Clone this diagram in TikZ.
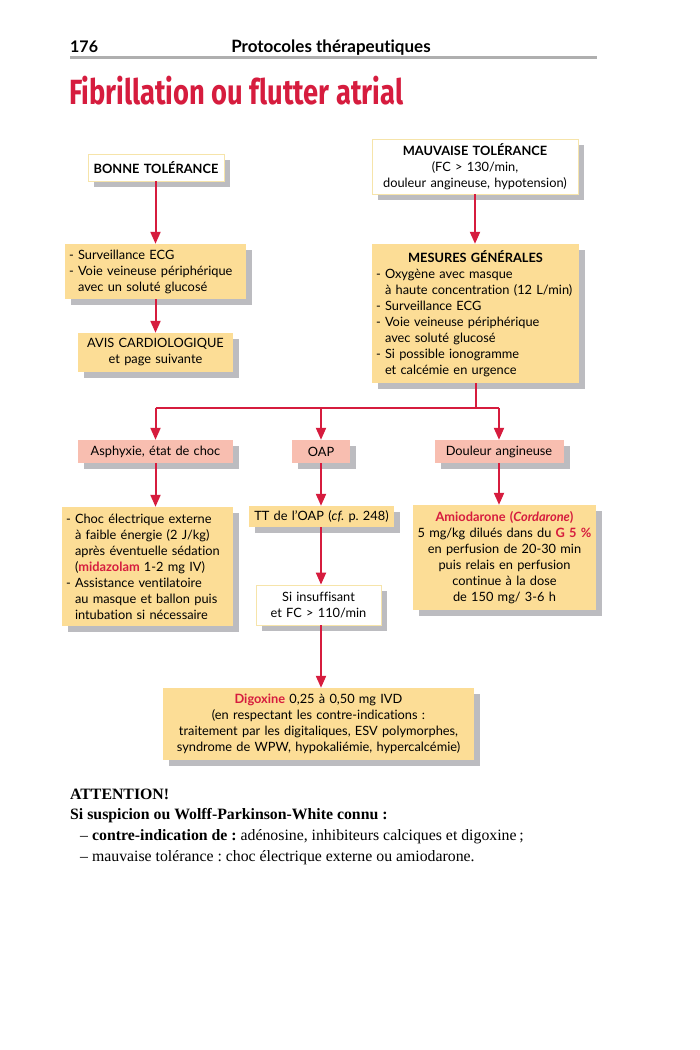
\documentclass[tikz,border=0pt]{standalone}
\usepackage{fontspec}
\setmainfont{Lato}[Ligatures=NoCommon]
\newfontfamily\serifx{Liberation Serif}
\newfontfamily\titlefont{Fira Sans}[Ligatures=NoCommon]
\usetikzlibrary{arrows.meta,shadows}
\frenchspacing
\definecolor{boxyel}{RGB}{252,221,150}
\definecolor{boxpink}{RGB}{248,190,176}
\definecolor{shgray}{RGB}{188,188,192}
\definecolor{redc}{RGB}{214,28,62}
\definecolor{bordery}{RGB}{246,228,170}
\definecolor{rulegray}{RGB}{175,175,175}
\tikzset{
  base/.style={font=\fontsize{12.8}{16}\selectfont, inner xsep=5pt, inner ysep=0pt,
    drop shadow={shadow xshift=6pt,shadow yshift=-6pt,fill=shgray,opacity=1}},
  ybox/.style={base, fill=boxyel},
  pbox/.style={base, fill=boxpink},
  wbox/.style={base, fill=white, draw=bordery, line width=0.8pt},
  arr/.style={draw=redc, line width=2pt, -{Triangle[length=12pt,width=10pt]}},
  lin/.style={draw=redc, line width=2pt},
}
\newcommand{\rb}[1]{\textcolor{redc}{\textbf{#1}}}
\begin{document}
\begin{tikzpicture}[x=1pt,y=-1pt]
\useasboundingbox[fill=white] (0,0) rectangle (700,1050);
% header
\node[anchor=base west, font=\fontsize{16}{18}\selectfont\bfseries, inner sep=0pt] (pg) at (70,52) {176};
\node[anchor=base, font=\fontsize{17}{20}\selectfont\bfseries, inner sep=0pt] (hd) at (331,52) {Protocoles thérapeutiques};
\draw[rulegray, line width=2.5pt] (70,57.5) -- (597,57.5);
% title
\node[anchor=base west, inner sep=0pt, text=redc] (title) at (69,104) {\scalebox{0.78}[1]{\fontsize{35}{40}\titlefont\bfseries Fibrillation ou flutter atrial}};

% boxes
\node[wbox, minimum width=136pt, minimum height=27pt, text width=130pt, inner xsep=3pt, align=center] (bonne) at (156,167.5) {\textbf{BONNE TOLÉRANCE}};
\node[ybox, minimum width=181pt, minimum height=55pt, text width=173pt, inner xsep=4pt, align=left] (surv) at (155.5,271.5)
  {- Surveillance ECG\\- Voie veineuse périphérique\\\phantom{- }avec un soluté glucosé};
\node[ybox, minimum width=155pt, minimum height=39pt, text width=149pt, inner xsep=3pt, align=center] (avis) at (155.5,352.5)
  {AVIS CARDIOLOGIQUE\\et page suivante};
\node[wbox, minimum width=206pt, minimum height=55pt, text width=200pt, inner xsep=3pt, align=center] (mauv) at (475,166.5)
  {\textbf{MAUVAISE TOLÉRANCE}\\(FC > 130/min,\\douleur angineuse, hypotension)};
\node[ybox, minimum width=207pt, minimum height=139pt, text width=199pt, inner xsep=4pt, align=left] (mes) at (475.5,313.5)
  {\makebox[\linewidth]{\textbf{MESURES GÉNÉRALES}}\\
   - Oxygène avec masque\\\phantom{- }à haute concentration (12 L/min)\\- Surveillance ECG\\
   - Voie veineuse périphérique\\\phantom{- }avec soluté glucosé\\- Si possible ionogramme\\\phantom{- }et calcémie en urgence};
\node[pbox, minimum width=155pt, minimum height=23pt, text width=149pt, inner xsep=3pt, align=center] (asph) at (155.5,451.5) {Asphyxie, état de choc};
\node[pbox, minimum width=58pt, minimum height=23pt, text width=52pt, inner xsep=3pt, align=center] (oap) at (321,451.5) {OAP};
\node[pbox, minimum width=129pt, minimum height=23pt, text width=123pt, inner xsep=3pt, align=center] (doul) at (499,451.5) {Douleur angineuse};
\node[ybox, minimum width=171pt, minimum height=119pt, text width=163pt, inner xsep=4pt, align=left] (choc) at (147.5,566.5)
  {- Choc électrique externe\\\phantom{- }à faible énergie (2 J/kg)\\\phantom{- }après éventuelle sédation\\
   \phantom{- }(\rb{midazolam} 1-2 mg IV)\\- Assistance ventilatoire\\\phantom{- }au masque et ballon puis\\\phantom{- }intubation si nécessaire};
\node[ybox, minimum width=145pt, minimum height=21pt, text width=141pt, inner xsep=2pt, align=center] (tt) at (321.5,516.5) {TT de l'OAP (\textit{cf.} p.~248)};
\node[wbox, minimum width=125pt, minimum height=40pt, text width=119pt, inner xsep=3pt, align=center] (si) at (318.5,605) {Si insuffisant\\et FC > 110/min};
\node[ybox, minimum width=183pt, minimum height=105pt, text width=179pt, inner xsep=2pt, align=center] (amio) at (504.5,557.5)
  {\rb{Amiodarone (\textit{Cordarone})}\\5 mg/kg dilués dans du \rb{G 5 \%}\\en perfusion de 20-30 min\\puis relais en perfusion\\continue à la dose\\de 150 mg/ 3-6 h};
\node[ybox, minimum width=311pt, minimum height=72pt, text width=305pt, inner xsep=3pt, align=center] (digo) at (318.5,724)
  {\rb{Digoxine} 0,25 à 0,50 mg IVD\\(en respectant les contre-indications :\\traitement par les digitaliques, ESV polymorphes,\\syndrome de WPW, hypokaliémie, hypercalcémie)};

% connectors
\draw[arr] (bonne.south -| surv.north) -- (surv.north);
\draw[arr] (surv.south) -- (avis.north);
\draw[arr] (mauv.south) -- (mauv.south |- mes.north);
\coordinate (j) at (476,408);
\draw[lin] (mes.south -| j) -- (j);
\draw[lin] (asph.north |- j) -- (doul.north |- j);
\draw[arr] (asph.north |- j) -- (asph.north);
\draw[arr] (oap.north |- j) -- (oap.north);
\draw[arr] (doul.north |- j) -- (doul.north);
\draw[arr] (asph.south) -- (asph.south |- choc.north);
\draw[arr] (oap.south) -- (oap.south |- tt.north);
\draw[arr] (doul.south) -- (doul.south |- amio.north);
\draw[arr] (tt.south -| oap.south) -- (oap.south |- si.north);
\draw[arr] (si.south -| oap.south) -- (oap.south |- digo.north);

% bottom text
\begin{scope}[every node/.style={anchor=base west, inner sep=0pt, font=\serifx\fontsize{15.8}{18}\selectfont}]
\node (t1) at (70,799) {\textbf{ATTENTION!}};
\node (t2) at (70,819) {\textbf{Si suspicion ou Wolff-Parkinson-White connu :}};
\node (t3) at (80,840) {– \textbf{contre-indication de :} adénosine, inhibiteurs calciques et digoxine\,;};
\node (t4) at (80,861) {– mauvaise tolérance : choc électrique externe ou amiodarone.};
\end{scope}
\end{tikzpicture}
\end{document}
